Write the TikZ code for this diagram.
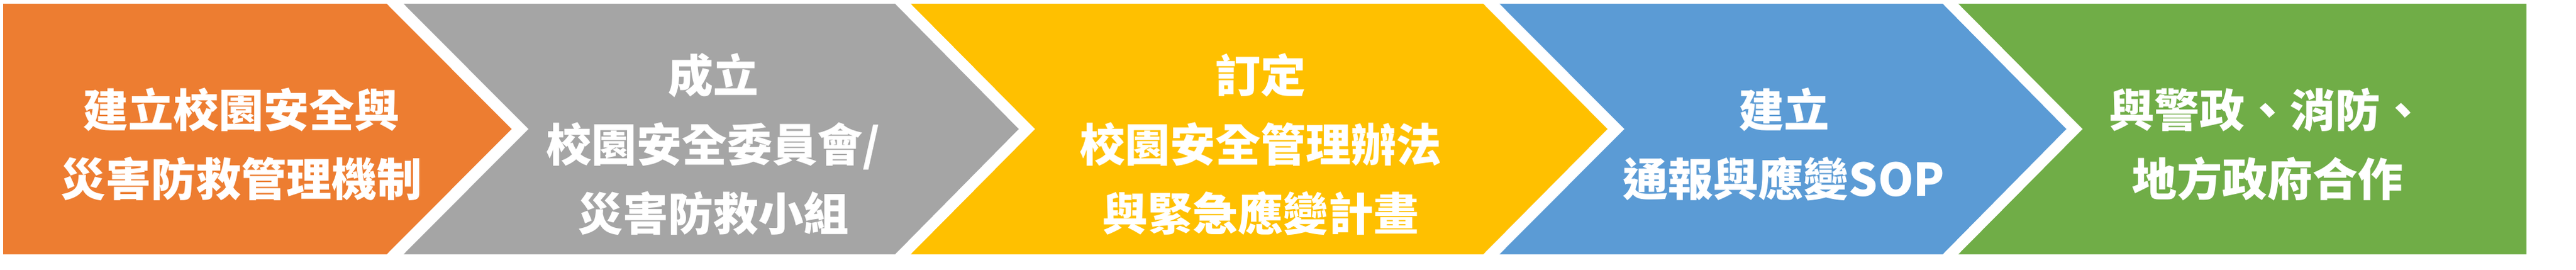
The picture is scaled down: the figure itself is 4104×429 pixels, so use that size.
\documentclass[tikz,border=0pt]{standalone}
\usepackage{fontspec}
\setmainfont{Noto Sans CJK TC}
\definecolor{orangestep}{HTML}{ED7D31}
\definecolor{graystep}{HTML}{A5A5A5}
\definecolor{yellowstep}{HTML}{FFC000}
\definecolor{bluestep}{HTML}{5B9BD5}
\definecolor{greenstep}{HTML}{70AD47}

\begin{document}
\begin{tikzpicture}[x=0.25pt,y=0.25pt,
	steptext/.style={text=white,align=center,inner sep=0pt,font=\fontsize{18}{27.5}\selectfont\bfseries}]
	\useasboundingbox (0,0) rectangle (4104,429);

	% chevrons
	\fill[orangestep] (5,423) -- (616,423) -- (815,223.5) -- (616,24) -- (5,24) -- cycle;
	\fill[graystep] (643,423) -- (1426,423) -- (1623,223.5) -- (1426,24) -- (643,24) -- (842,223.5) -- cycle;
	\fill[yellowstep] (1451,423) -- (2363,423) -- (2561,223.5) -- (2363,24) -- (1451,24) -- (1649,223.5) -- cycle;
	\fill[bluestep] (2389,423) -- (3095,423) -- (3292,223.5) -- (3095,24) -- (2389,24) -- (2588,223.5) -- cycle;
	\fill[greenstep] (3120,423) -- (4025,423) -- (4025,24) -- (3120,24) -- (3318,223.5) -- cycle;

	\node[steptext] (mechanism) at (384,199) {建立校園安全與\\災害防救管理機制};
	\node[steptext] (committee) at (1136,199) {成立\\校園安全委員會/\\災害防救小組};
	\node[steptext] (rules) at (2008,199) {訂定\\校園安全管理辦法\\與緊急應變計畫};
	\node[steptext] (sop) at (2842,199) {建立\\通報與應變SOP};
	\node[steptext] (cooperation) at (3612,199) {與警政、消防、\\地方政府合作};
\end{tikzpicture}
\end{document}
